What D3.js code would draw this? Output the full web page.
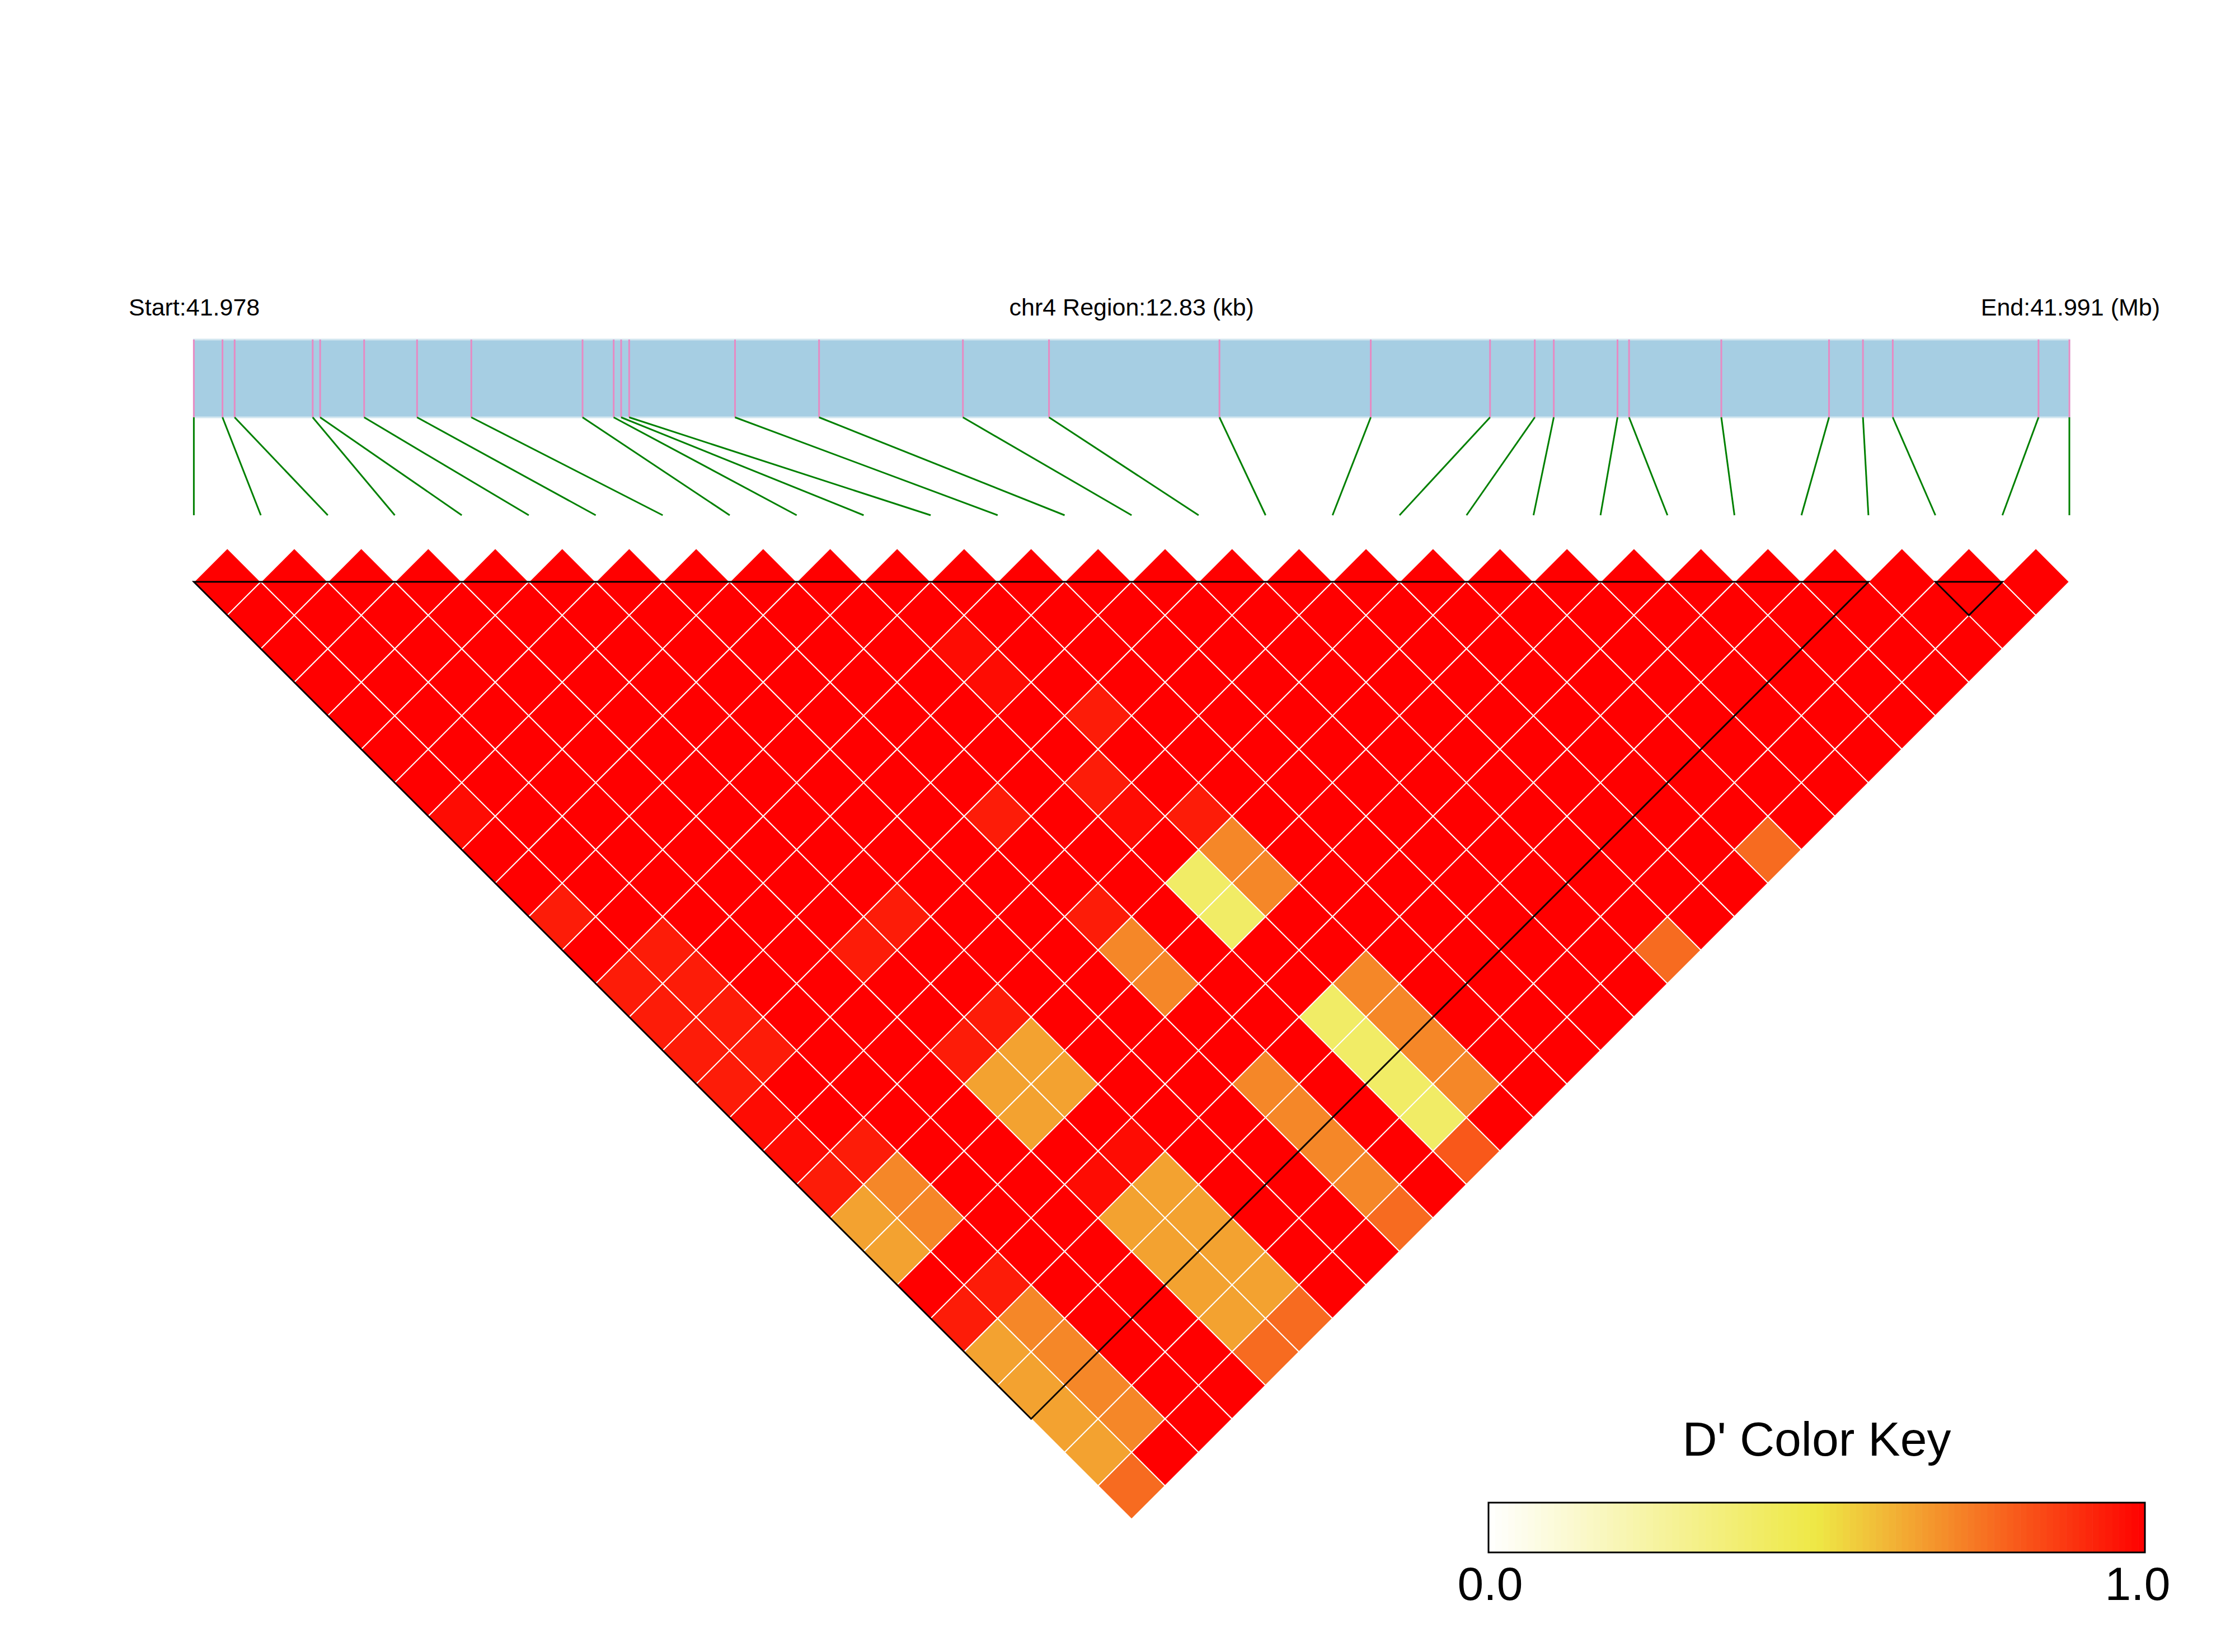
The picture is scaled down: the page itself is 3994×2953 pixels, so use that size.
<!DOCTYPE html>
<meta charset="utf-8">
<script src="https://d3js.org/d3.v7.min.js"></script>
<style>
  body { margin: 0; background: #fff; }
  text { font-family: "Liberation Sans", Arial, sans-serif; fill: #000; }
</style>
<div id="my_dataviz"></div>
<script>

// chromosome and SNP positions (bp)
var chrom = "chr4";
var snpPos = [41978150, 41978346, 41978429, 41978963, 41979014, 41979315, 41979677,
  41980048, 41980809, 41981022, 41981073, 41981128, 41981852, 41982427, 41983411,
  41984000, 41985166, 41986201, 41987017, 41987323, 41987453, 41987889, 41987968,
  41988599, 41989336, 41989568, 41989772, 41990769, 41990980];

// haplotype blocks (first SNP index, last SNP index)
var blocks = [[0, 25], [26, 27]];

// pairs with D' below 1 : [snp i, snp j, D']
var dpLow = [
  // yellow
  [10, 20, 0.41], [10, 21, 0.41], [10, 24, 0.41], [10, 25, 0.41], [10, 26, 0.41], [10, 27, 0.41],
  // orange
  [11, 20, 0.71], [11, 21, 0.71], [11, 24, 0.71], [11, 25, 0.71], [11, 26, 0.71], [11, 27, 0.71],
  [8, 20, 0.71], [8, 21, 0.71], [8, 24, 0.71], [8, 25, 0.71], [8, 26, 0.71], [8, 27, 0.71],
  [1, 20, 0.71], [1, 21, 0.71], [1, 24, 0.71], [1, 25, 0.71], [1, 26, 0.71], [1, 27, 0.71],
  // light orange
  [4, 20, 0.65], [5, 20, 0.65], [4, 21, 0.65], [5, 21, 0.65], [0, 20, 0.65], [0, 21, 0.65],
  [4, 24, 0.65], [5, 24, 0.65], [4, 25, 0.65], [5, 25, 0.65], [4, 26, 0.65], [5, 26, 0.65],
  [4, 27, 0.65], [5, 27, 0.65], [0, 24, 0.65], [0, 25, 0.65], [0, 26, 0.65], [0, 27, 0.65],
  // red-orange
  [0, 28, 0.77], [4, 28, 0.77], [5, 28, 0.77], [8, 28, 0.77], [16, 28, 0.77], [19, 28, 0.77],
  [10, 28, 0.81],
  // light red
  [0, 11, 0.94], [0, 13, 0.94], [1, 13, 0.94], [0, 14, 0.94], [1, 14, 0.94], [0, 15, 0.94],
  [1, 15, 0.94], [0, 16, 0.94], [1, 16, 0.94], [0, 19, 0.94], [1, 19, 0.94], [0, 23, 0.94],
  [1, 23, 0.94], [4, 16, 0.94], [5, 16, 0.94], [8, 16, 0.94], [11, 16, 0.94], [10, 17, 0.94],
  [8, 19, 0.94], [11, 19, 0.94], [4, 19, 0.94], [5, 19, 0.94],
  [0, 8, 0.975], [0, 17, 0.975], [0, 18, 0.975], [4, 23, 0.975], [5, 23, 0.975],
  [10, 18, 0.975], [10, 13, 0.975], [10, 14, 0.975]
];

// colour key
var keyTitle = "D' Color Key";
var keyTicks = [0, 1];

var W = 3994, H = 2953;
var left = 346.4, right = 3698;
var barTop = 607, barBot = 746, lineBot = 921, topY = 1040;

var svg = d3.select("#my_dataviz")
  .append("svg")
    .attr("width", W)
    .attr("height", H);

svg.append("rect").attr("width", W).attr("height", H).attr("fill", "#fff");

// scales
var gx = d3.scaleLinear().domain(d3.extent(snpPos)).range([left, right]);
var ix = d3.scalePoint().domain(d3.range(snpPos.length)).range([left, right]);
var half = ix.step() / 2;
var color = d3.scaleLinear().domain([0, 0.5, 1]).range(["#ffffff", "#eee845", "#ff0000"]);

// header text
var startMb = d3.min(snpPos) / 1e6, endMb = d3.max(snpPos) / 1e6;
var regionKb = (d3.max(snpPos) - d3.min(snpPos)) / 1000;
svg.append("text").attr("x", 230).attr("y", 564).attr("font-size", 43)
  .text("Start:" + startMb.toFixed(3));
svg.append("text").attr("x", (left + right) / 2).attr("y", 564).attr("font-size", 43)
  .attr("text-anchor", "middle")
  .text(chrom + " Region:" + regionKb.toFixed(2) + " (kb)");
svg.append("text").attr("x", 3860).attr("y", 564).attr("font-size", 43)
  .attr("text-anchor", "end")
  .text("End:" + endMb.toFixed(3) + " (Mb)");

// genome bar
svg.append("rect")
  .attr("x", left).attr("y", barTop)
  .attr("width", right - left).attr("height", barBot - barTop)
  .attr("fill", "#a6cee3")
  .attr("stroke", "#d2e6f0").attr("stroke-width", 3);

svg.selectAll(".snpTick")
  .data(snpPos)
  .join("line")
    .attr("class", "snpTick")
    .attr("x1", function(d) { return gx(d); })
    .attr("x2", function(d) { return gx(d); })
    .attr("y1", barTop)
    .attr("y2", barBot)
    .attr("stroke", "#e78ac3")
    .attr("stroke-width", 3);

// connector lines to the matrix
svg.selectAll(".link")
  .data(snpPos)
  .join("line")
    .attr("class", "link")
    .attr("x1", function(d) { return gx(d); })
    .attr("y1", barBot)
    .attr("x2", function(d, k) { return ix(k); })
    .attr("y2", lineBot)
    .attr("stroke", "#008000")
    .attr("stroke-width", 3);

// D' cells
var lookup = {};
dpLow.forEach(function(d) { lookup[d[0] + "-" + d[1]] = d[2]; });
var cells = [];
for (var i = 0; i < snpPos.length; i++) {
  for (var j = i + 1; j < snpPos.length; j++) {
    var v = lookup[i + "-" + j];
    cells.push({i: i, j: j, v: v === undefined ? 1 : v});
  }
}

svg.selectAll(".cell")
  .data(cells)
  .join("path")
    .attr("class", "cell")
    .attr("d", function(d) {
      var cx = (ix(d.i) + ix(d.j)) / 2;
      var cy = topY + (ix(d.j) - ix(d.i)) / 2 - half;
      return "M" + cx + "," + (cy - half) + "L" + (cx + half) + "," + cy +
             "L" + cx + "," + (cy + half) + "L" + (cx - half) + "," + cy + "Z";
    })
    .attr("fill", function(d) { return color(d.v); })
    .attr("stroke", "#fff")
    .attr("stroke-width", 2);

// block outlines
svg.selectAll(".block")
  .data(blocks)
  .join("path")
    .attr("class", "block")
    .attr("d", function(b) {
      var x0 = ix(b[0]), x1 = ix(b[1]);
      return "M" + x0 + "," + topY + "L" + x1 + "," + topY +
             "L" + (x0 + x1) / 2 + "," + (topY + (x1 - x0) / 2) + "Z";
    })
    .attr("fill", "none")
    .attr("stroke", "#000")
    .attr("stroke-width", 3);

// colour key
var kx = d3.scaleLinear().domain([0, 1]).range([2660, 3833]);
var kTop = 2686, kBot = 2775, nSteps = 100;
svg.append("text").attr("x", (kx(0) + kx(1)) / 2).attr("y", 2602)
  .attr("font-size", 86).attr("text-anchor", "middle").text(keyTitle);
svg.selectAll(".keyStep")
  .data(d3.range(nSteps))
  .join("rect")
    .attr("class", "keyStep")
    .attr("x", function(k) { return kx(k / nSteps); })
    .attr("y", kTop)
    .attr("width", (kx(1) - kx(0)) / nSteps + 0.6)
    .attr("height", kBot - kTop)
    .attr("fill", function(k) { return color((k + 0.5) / nSteps); });
svg.append("rect")
  .attr("x", kx(0)).attr("y", kTop)
  .attr("width", kx(1) - kx(0)).attr("height", kBot - kTop)
  .attr("fill", "none").attr("stroke", "#000").attr("stroke-width", 3);
svg.selectAll(".keyTick")
  .data(keyTicks)
  .join("text")
    .attr("class", "keyTick")
    .attr("x", function(d) { return kx(d) + (d === 0 ? 3 : -13); })
    .attr("y", 2860)
    .attr("font-size", 84)
    .attr("text-anchor", "middle")
    .text(function(d) { return d.toFixed(1); });

</script>
